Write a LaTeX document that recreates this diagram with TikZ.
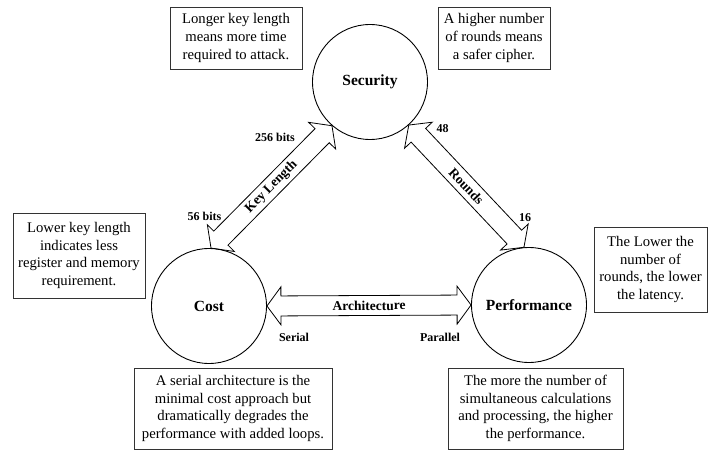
\documentclass[tikz,border=0pt]{standalone}
\usepackage{fontspec}
\setmainfont{Liberation Serif}
\usetikzlibrary{calc}
\usetikzlibrary{positioning}
\tikzset{
  goal/.style={circle, draw, line width=0.9pt, minimum size=115pt, inner sep=0pt,
    font=\fontsize{15.5}{18}\selectfont\bfseries},
  note/.style={draw=black!80, line width=0.8pt, align=center, inner sep=0pt,
    font=\fontsize{14.7}{17.7}\selectfont},
  arrowbody/.style={draw, line width=0.8pt, line join=miter},
  arrowlabel/.style={font=\fontsize{13.5}{15}\selectfont\bfseries, inner sep=0pt},
  endlabel/.style={font=\fontsize{12}{14}\selectfont\bfseries, inner sep=0pt}
}
\newcommand{\arrHeadLen}{14pt}
\newcommand{\arrHeadHalf}{19pt}
\newcommand{\arrShaftHalf}{10pt}
% hollow double arrow between two points, label along the shaft
\newcommand{\hollowArrow}[3]{
  \draw[arrowbody] (#1)
    -- ($(#1)!\arrHeadLen!(#2)!\arrHeadHalf!90:(#2)$)
    -- ($(#1)!\arrHeadLen!(#2)!\arrShaftHalf!90:(#2)$)
    -- ($(#2)!\arrHeadLen!(#1)!\arrShaftHalf!-90:(#1)$)
    -- ($(#2)!\arrHeadLen!(#1)!\arrHeadHalf!-90:(#1)$)
    -- (#2)
    -- ($(#2)!\arrHeadLen!(#1)!\arrHeadHalf!90:(#1)$)
    -- ($(#2)!\arrHeadLen!(#1)!\arrShaftHalf!90:(#1)$)
    -- ($(#1)!\arrHeadLen!(#2)!\arrShaftHalf!-90:(#2)$)
    -- ($(#1)!\arrHeadLen!(#2)!\arrHeadHalf!-90:(#2)$)
    -- cycle;
  \path (#1) -- (#2) node[midway, sloped, arrowlabel] {#3};
}

\begin{document}
\begin{tikzpicture}[x=1pt, y=-1pt]
  \useasboundingbox (0,0) rectangle (713,452);

  \node[goal] (sec) at (370,82) {Security};
  \node[goal] (cost) at (209,306) {Cost};
  \node[goal] (perf) at (529,305) {Performance};

  \hollowArrow{sec.229}{cost.88}{Key Length}
  \hollowArrow{sec.312}{perf.95}{Rounds}
  \hollowArrow{cost.east}{perf.west}{Architecture}

  \node[endlabel] (bits256) at (275,137.5) {256 bits};
  \node[endlabel] (bits56) at (204.5,216) {56 bits};
  \node[endlabel] (rounds48) at (442.5,129) {48};
  \node[endlabel] (rounds16) at (525,217.5) {16};
  \node[endlabel] (serial) at (294,337.5) {Serial};
  \node[endlabel] (parallel) at (440,337.5) {Parallel};

  \node[note, minimum width=132pt, minimum height=62pt] (keynote) at (236,38)
    {Longer key length\\means more time\\required to attack.};
  \node[note, minimum width=112pt, minimum height=62pt] (roundnote) at (494,38)
    {A higher number\\of rounds means\\a safer cipher.};
  \node[note, minimum width=132pt, minimum height=85pt] (costnote) at (79,255.5)
    {Lower key length\\indicates less\\register and memory\\requirement.};
  \node[note, minimum width=113pt, minimum height=85pt] (latnote) at (650.5,269.5)
    {The Lower the\\number of\\rounds, the lower\\the latency.};
  \node[note, minimum width=198pt, minimum height=81pt] (serialnote) at (233,408.5)
    {A serial architecture is the\\minimal cost approach but\\dramatically degrades the\\performance with added loops.};
  \node[note, minimum width=175pt, minimum height=81pt] (parnote) at (535.5,408.5)
    {The more the number of\\simultaneous calculations\\and processing, the higher\\the performance.};
\end{tikzpicture}
\end{document}
